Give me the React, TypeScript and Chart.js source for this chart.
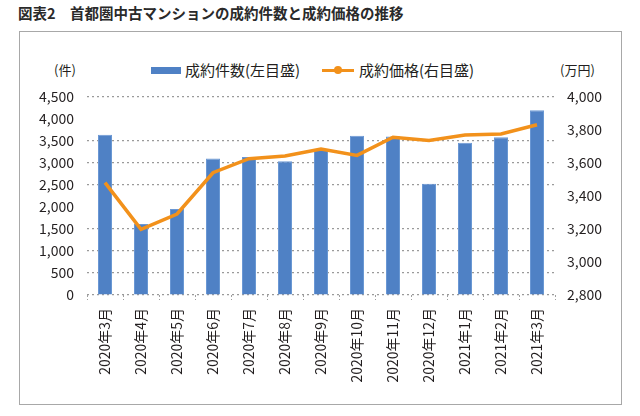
import React, { useEffect, useRef } from "react";
import { Chart, registerables } from "chart.js";

Chart.register(...registerables);

const categories = [
  "2020年3月", "2020年4月", "2020年5月", "2020年6月", "2020年7月", "2020年8月", "2020年9月",
  "2020年10月", "2020年11月", "2020年12月", "2021年1月", "2021年2月", "2021年3月",
];
const contractCounts = [3640, 1615, 1955, 3100, 3135, 3040, 3300, 3620, 3600, 2530, 3460, 3585, 4200];
const contractPrices = [3481, 3198, 3291, 3541, 3626, 3642, 3685, 3646, 3756, 3737, 3770, 3776, 3832];
const leftTicks = { min: 0, max: 4500, step: 500 };
const rightTicks = { min: 2800, max: 4000, step: 200 };
const barLabel = "成約件数(左目盛)";
const lineLabel = "成約価格(右目盛)";
const title = "図表2　首都圏中古マンションの成約件数と成約価格の推移";

const FONT = "'Noto Sans CJK JP', 'Noto Sans', sans-serif";
const BLUE = "#4f81c5";
const ORANGE = "#f2911b";
const TEXT = "#231f20";

export default function App() {
  const ref = useRef<HTMLCanvasElement | null>(null);

  useEffect(() => {
    document.body.style.margin = "0";
    const canvas = ref.current;
    if (!canvas) return;
    const chart = new Chart(canvas, {
      data: {
        labels: categories,
        datasets: [
          {
            type: "line",
            label: lineLabel,
            data: contractPrices,
            yAxisID: "yRight",
            borderColor: ORANGE,
            backgroundColor: ORANGE,
            borderWidth: 3.5,
            pointRadius: 0,
            tension: 0,
            order: 0,
          },
          {
            type: "bar",
            label: barLabel,
            data: contractCounts,
            yAxisID: "yLeft",
            backgroundColor: BLUE,
            borderColor: "#6b98d4",
            borderWidth: 1,
            categoryPercentage: 1,
            barPercentage: 0.39,
            order: 1,
          },
        ],
      },
      options: {
        responsive: false,
        animation: false,
        locale: "en-US",
        layout: { padding: { top: 97, left: 0, right: 0, bottom: 0 } },
        plugins: { legend: { display: false }, tooltip: { enabled: false } },
        scales: {
          x: {
            offset: true,
            grid: {
              offset: true,
              drawOnChartArea: false,
              drawTicks: true,
              tickLength: 5,
              color: "#a0a0a0",
              tickColor: "#a0a0a0",
              tickBorderDash: [2, 2],
            },
            border: { display: false },
            ticks: {
              minRotation: 90,
              maxRotation: 90,
              autoSkip: false,
              padding: 8,
              color: TEXT,
              font: { family: FONT, size: 14 },
            },
            afterFit: (s: any) => { s.height = 121; },
          },
          yLeft: {
            position: "left",
            min: leftTicks.min,
            max: leftTicks.max,
            ticks: {
              stepSize: leftTicks.step,
              padding: 13,
              color: TEXT,
              font: { family: FONT, size: 14 },
            },
            grid: {
              drawTicks: false,
              color: (ctx: any) =>
                ctx.tick && (ctx.tick.value === 2000 || ctx.tick.value === 4000)
                  ? "rgba(0,0,0,0)"
                  : "#9a9a9a",
              lineWidth: 1.2,
            },
            border: { display: false, dash: [2, 3] },
            afterFit: (s: any) => { s.width = 87; },
          },
          yRight: {
            position: "right",
            min: rightTicks.min,
            max: rightTicks.max,
            ticks: {
              stepSize: rightTicks.step,
              padding: 12,
              color: TEXT,
              font: { family: FONT, size: 14 },
            },
            grid: { drawOnChartArea: false, drawTicks: false },
            border: { display: false },
            afterFit: (s: any) => { s.width = 85; },
          },
        },
      },
    } as any);
    return () => chart.destroy();
  }, []);

  const abs = (o: React.CSSProperties): React.CSSProperties => ({ position: "absolute", ...o });

  return (
    <div style={{ position: "relative", width: 640, height: 416, background: "#fff", fontFamily: FONT, color: TEXT }}>
      <div style={abs({ left: 18, top: 2, fontSize: 14.5, fontWeight: 700, whiteSpace: "nowrap", lineHeight: "22px", color: "#2a2a2a" })}>
        {title}
      </div>
      <div style={abs({ left: 19, top: 31, width: 601, height: 372, border: "1.5px solid #a8a8a8" })} />
      <div style={abs({ left: 54, top: 61, fontSize: 13, lineHeight: "18px", whiteSpace: "nowrap" })}>(件)</div>
      <div style={abs({ left: 560, top: 61, fontSize: 13, lineHeight: "18px", whiteSpace: "nowrap" })}>(万円)</div>
      <div style={abs({ left: 151, top: 67, width: 30, height: 7, background: BLUE })} />
      <div style={abs({ left: 185, top: 60, fontSize: 15, lineHeight: "20px", whiteSpace: "nowrap" })}>{barLabel}</div>
      <div style={abs({ left: 322, top: 68.5, width: 32, height: 3, background: ORANGE })} />
      <div style={abs({ left: 334, top: 66, width: 8, height: 8, borderRadius: 4, background: ORANGE })} />
      <div style={abs({ left: 359, top: 60, fontSize: 15, lineHeight: "20px", whiteSpace: "nowrap" })}>{lineLabel}</div>
      <canvas ref={ref} width={640} height={416} style={abs({ left: 0, top: 0, width: 640, height: 416 })} />
    </div>
  );
}
